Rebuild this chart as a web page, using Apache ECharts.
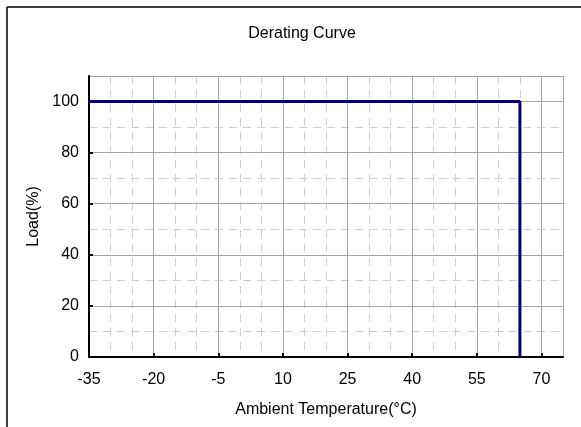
<!DOCTYPE html>
<html>
<head>
<meta charset="utf-8">
<script src="https://cdn.jsdelivr.net/npm/echarts@6/dist/echarts.min.js"></script>
<style>
html,body{margin:0;padding:0;background:#fff;}
#c{width:581px;height:427px;}
</style>
</head>
<body>
<div id="c"></div>
<script>
var titleText = 'Derating Curve';
var xName = 'Ambient Temperature(°C)';
var yName = 'Load(%)';
var xMin = -35, xMax = 75, xStep = 15, xMinorStep = 5;
var yMin = 0, yMax = 110, yStep = 20, yMinorStep = 10;
var temperature = [-35, 65, 65];
var load = [100, 100, 0];

var font = 'Liberation Sans, Arial, sans-serif';
var fs = 16;
var chart = echarts.init(document.getElementById('c'), null, {renderer: 'canvas'});
var pts = temperature.map(function (t, i) { return [t, load[i]]; });

chart.setOption({
  animation: false,
  backgroundColor: '#fff',
  title: {
    text: titleText, left: 297, top: 21, textAlign: 'center',
    textStyle: {fontSize: fs, fontWeight: 'normal', color: '#000', fontFamily: font}
  },
  graphic: [
    {type: 'line', shape: {x1: 7, y1: 7, x2: 581, y2: 7}, style: {stroke: '#000', lineWidth: 1.5}, z: 100},
    {type: 'line', shape: {x1: 7, y1: 7, x2: 7, y2: 427}, style: {stroke: '#000', lineWidth: 1.5}, z: 100}
  ],
  grid: {left: 89, right: 18, top: 76, bottom: 70},
  xAxis: [{
    type: 'value', min: xMin, max: xMax, interval: xStep, z: 2,
    name: xName, nameLocation: 'middle', nameGap: 45,
    nameTextStyle: {fontSize: fs, color: '#000', fontFamily: font},
    axisLine: {show: true, onZero: false, lineStyle: {color: '#000', width: 2}},
    axisTick: {show: true, inside: true, length: 4, lineStyle: {color: '#000', width: 2}},
    axisLabel: {fontSize: fs, color: '#000', fontFamily: font, margin: 15, showMaxLabel: false},
    splitLine: {show: true, lineStyle: {color: '#a6a6a6', width: 1}}
  }, {
    type: 'value', min: xMin, max: xMax, interval: xMinorStep, z: 1,
    position: 'bottom',
    axisLine: {show: false, onZero: false}, axisTick: {show: false}, axisLabel: {show: false},
    splitLine: {show: true, lineStyle: {color: '#cfcfcf', width: 1, type: [8, 6]}}
  }],
  yAxis: [{
    type: 'value', min: yMin, max: yMax, interval: yStep, z: 2,
    name: yName, nameLocation: 'middle', nameGap: 44,
    nameTextStyle: {fontSize: fs, color: '#000', fontFamily: font},
    axisLine: {show: true, onZero: false, lineStyle: {color: '#000', width: 2}},
    axisTick: {show: true, inside: true, length: 4, lineStyle: {color: '#000', width: 2}},
    axisLabel: {fontSize: fs, color: '#000', fontFamily: font, margin: 10, showMaxLabel: false},
    splitLine: {show: true, lineStyle: {color: '#a6a6a6', width: 1}}
  }, {
    type: 'value', min: yMin, max: yMax, interval: yMinorStep, z: 1,
    position: 'left',
    axisLine: {show: false, onZero: false}, axisTick: {show: false}, axisLabel: {show: false},
    splitLine: {show: true, lineStyle: {color: '#cfcfcf', width: 1, type: [8, 6]}}
  }],
  series: [{
    type: 'line', xAxisIndex: 0, yAxisIndex: 0, data: pts,
    showSymbol: false, symbol: 'none',
    lineStyle: {color: '#000080', width: 3}, z: 10
  }]
});
</script>
</body>
</html>
